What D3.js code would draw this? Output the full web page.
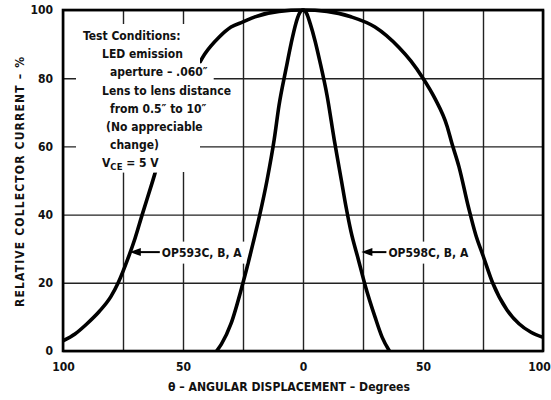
<!DOCTYPE html>
<html>
<head>
<meta charset="utf-8">
<script src="https://cdn.jsdelivr.net/npm/d3@7"></script>
<style>
  body { margin: 0; background: #fff; }
  svg text { font-family: "DejaVu Sans Condensed", "DejaVu Sans", sans-serif; font-stretch: condensed; font-weight: bold; fill: #111; }
</style>
</head>
<body>
<div id="chart"></div>
<script>
// Wide-angle device (OP593C, B, A): angle in degrees -> relative current %
const wideAngles = [-100, -95, -90, -85, -80, -77, -73, -70, -67, -63, -60, -55, -50, -45, -41, -35, -30, -25, -20, -10, 0,
                    10, 20, 30, 40, 45, 50, 55, 60, 62, 65, 69, 72, 75, 79, 85, 90, 95, 100];
const wideValues = [3, 5, 8, 11.5, 16, 20, 27, 33, 40, 49, 56, 66, 75, 82, 87, 92, 95, 96.5, 98, 99.6, 100,
                    99.6, 98, 95, 89, 85, 80, 74, 66, 61, 54, 42, 34, 28, 20, 12, 8, 5.5, 4];
// Narrow-angle device (OP598C, B, A)
const narrowAngles = [-36, -34, -30, -25, -20, -18, -15, -12, -10, -7, -5, -3, -1.5, 0, 1.5, 3, 5, 7, 10, 13, 16, 18, 20, 23, 26, 30, 33, 36];
const narrowValues = [0, 2, 8, 20, 34, 40, 50, 62, 72, 83, 90, 96, 99, 100, 99, 96, 91, 85, 75, 62, 50, 42, 35, 27, 19, 10, 4, 0];

const xTickLabels = [-100, -50, 0, 50, 100];
const yTickLabels = [0, 20, 40, 60, 80, 100];
const xGrid = d3.range(-100, 101, 25);
const yGrid = d3.range(0, 101, 20);

const conditionLines = ["Test Conditions:", "LED emission", "aperture \u2013 .060\u2033", "Lens to lens distance",
                        "from 0.5\u2033 to 10\u2033", "(No appreciable", "change)", "VCE"];
const conditionIndent = [0, 19, 27, 19, 27, 23, 27, 19];

const width = 551, height = 400;
const margin = { left: 63, right: 8, top: 10, bottom: 49 };

const svg = d3.select("#chart").append("svg")
    .attr("width", width).attr("height", height);

const x = d3.scaleLinear().domain([-100, 100]).range([margin.left, width - margin.right]);
const y = d3.scaleLinear().domain([0, 100]).range([height - margin.bottom, margin.top]);

// grid
svg.append("g").attr("transform", `translate(0,${y(0)})`)
    .call(d3.axisBottom(x).tickValues(xGrid).tickSize(-(y(0) - y(100))).tickFormat(""))
    .call(g => g.select(".domain").remove())
    .call(g => g.selectAll("line").attr("stroke", "#222").attr("stroke-width", 1.4));
svg.append("g").attr("transform", `translate(${x(-100)},0)`)
    .call(d3.axisLeft(y).tickValues(yGrid).tickSize(-(x(100) - x(-100))).tickFormat(""))
    .call(g => g.select(".domain").remove())
    .call(g => g.selectAll("line").attr("stroke", "#222").attr("stroke-width", 1.4));

// curves
const line = d3.line().curve(d3.curveMonotoneX).x(d => x(d[0])).y(d => y(d[1]));
svg.append("clipPath").attr("id", "plot").append("rect")
    .attr("x", x(-100)).attr("y", y(100) - 3).attr("width", x(100) - x(-100)).attr("height", y(0) - y(100) + 3);
const curves = svg.append("g").attr("clip-path", "url(#plot)");
curves.append("path").attr("d", line(d3.zip(wideAngles, wideValues)))
    .attr("fill", "none").attr("stroke", "#000").attr("stroke-width", 3.6);
curves.append("path").attr("d", line(d3.zip(narrowAngles, narrowValues)))
    .attr("fill", "none").attr("stroke", "#000").attr("stroke-width", 3.6);

// test conditions block (white background hides grid and curve behind it)
const block = svg.append("g");
block.append("rect").attr("x", 76).attr("y", 24).attr("width", 124).attr("height", 148).attr("fill", "#fff");
const lineH = 18.2, top0 = 40, left0 = 83;
const bgLayer = block.append("g"), textLayer = block.append("g");
conditionLines.forEach((t, i) => {
    const tx = left0 + conditionIndent[i], ty = top0 + i * lineH;
    const txt = textLayer.append("text").attr("x", tx).attr("y", ty).style("font-size", "12px");
    if (t === "VCE") {
        txt.text("V");
        txt.append("tspan").attr("dy", 3).style("font-size", "9.5px").text("CE");
        txt.append("tspan").attr("dy", -3).text(" = 5 V");
    } else {
        txt.text(t);
    }
    const bb = txt.node().getBBox();
    bgLayer.append("rect").attr("x", bb.x - 6).attr("y", ty - 13).attr("width", bb.width + 12)
        .attr("height", lineH).attr("fill", "#fff");
});

// curve labels with arrows
const labels = [
    { text: "OP593C, B, A", angle: -73, value: 29, gap: 32 },
    { text: "OP598C, B, A", angle: 23.5, value: 29, gap: 27 }
];
labels.forEach(l => {
    const g = svg.append("g");
    const tipX = x(l.angle) + 2, tipY = y(l.value);
    const bg = g.append("rect");
    const t = g.append("text").attr("x", tipX + l.gap).attr("y", tipY + 4.5).style("font-size", "12px").text(l.text);
    const bb = t.node().getBBox();
    bg.attr("x", tipX + l.gap - 4).attr("y", bb.y - 4)
        .attr("width", bb.width + 8).attr("height", bb.height + 8).attr("fill", "#fff");
    g.append("line").attr("x1", tipX + 8).attr("x2", tipX + l.gap - 2).attr("y1", tipY).attr("y2", tipY)
        .attr("stroke", "#000").attr("stroke-width", 2);
    g.append("path").attr("d", `M${tipX},${tipY}L${tipX + 11},${tipY - 4}L${tipX + 11},${tipY + 4}Z`).attr("fill", "#000");
});

// frame
svg.append("rect").attr("x", x(-100)).attr("y", y(100)).attr("width", x(100) - x(-100)).attr("height", y(0) - y(100))
    .attr("fill", "none").attr("stroke", "#000").attr("stroke-width", 2.6);

// tick labels
svg.append("g").attr("transform", `translate(0,${y(0) + 8})`)
    .call(d3.axisBottom(x).tickValues(xTickLabels).tickSize(0).tickFormat(d => Math.abs(d)))
    .call(g => g.select(".domain").remove())
    .call(g => g.selectAll("text").style("font-size", "12px").attr("fill", "#111"))
    .call(g => g.selectAll(".tick").filter(d => d === 100).select("text").attr("dx", -4));
svg.append("g").attr("transform", `translate(${x(-100) - 7},0)`)
    .call(d3.axisLeft(y).tickValues(yTickLabels).tickSize(0))
    .call(g => g.select(".domain").remove())
    .call(g => g.selectAll("text").style("font-size", "12px").attr("fill", "#111"));

// axis titles
svg.append("text").attr("x", 289).attr("y", 391).attr("text-anchor", "middle").style("font-size", "12px")
    .attr("textLength", 242).attr("lengthAdjust", "spacingAndGlyphs")
    .text("\u03B8 \u2013 ANGULAR DISPLACEMENT \u2013 Degrees");
svg.append("text").attr("transform", "translate(24,182) rotate(-90)").attr("text-anchor", "middle")
    .style("font-size", "12px").attr("textLength", 250).attr("lengthAdjust", "spacing")
    .text("RELATIVE COLLECTOR CURRENT \u2013 %");
</script>
</body>
</html>
